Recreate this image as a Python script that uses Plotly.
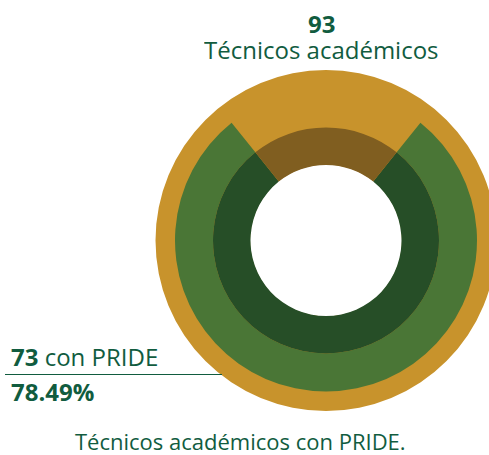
import plotly.graph_objects as go

# Data
total = 93
with_pride = 73
without_pride = total - with_pride
pct_label = "78.49%"
slice_labels = ["con PRIDE", "sin PRIDE"]
slice_values = [with_pride, without_pride]
title_label = "Técnicos académicos"
footer_label = "Técnicos académicos con PRIDE."

W, H = 489, 455
GOLD = "#C8932C"
GREEN = "#4A7636"
DKGREEN = "#264E27"
BROWN = "#805E20"
TXT = "#115C3F"
FONT = "Open Sans"

cx, cy = 326, 240.5  # pixel center (from top-left)


def dom(r):
    return dict(x=[(cx - r) / W, (cx + r) / W],
                y=[1 - (cy + r) / H, 1 - (cy - r) / H])


rot = 360 * without_pride / total / 2

fig = go.Figure()
fig.add_trace(go.Pie(
    labels=slice_labels, values=slice_values, sort=False, direction="clockwise",
    rotation=rot, hole=113 / 151, domain=dom(151),
    marker=dict(colors=[GREEN, "rgba(0,0,0,0)"], line=dict(width=0)),
    textinfo="none", hoverinfo="skip", showlegend=False))
fig.add_trace(go.Pie(
    labels=slice_labels, values=slice_values, sort=False, direction="clockwise",
    rotation=rot, hole=75.5 / 113, domain=dom(113),
    marker=dict(colors=[DKGREEN, BROWN], line=dict(width=0)),
    textinfo="none", hoverinfo="skip", showlegend=False))


def disc(r, color):
    fig.add_shape(type="circle", xref="paper", yref="paper", layer="below",
                  x0=(cx - r) / W, x1=(cx + r) / W,
                  y0=1 - (cy + r) / H, y1=1 - (cy - r) / H,
                  fillcolor=color, line=dict(width=0))


disc(170.5, GOLD)
disc(76, "white")
fig.add_shape(type="line", xref="paper", yref="paper", layer="below",
              x0=5 / W, x1=222 / W, y0=1 - 374.5 / H, y1=1 - 374.5 / H,
              line=dict(color=TXT, width=1.2))


def ann(text, xpx, ypx, size, xanchor="center", height=None):
    fig.add_annotation(text=text, x=xpx / W, y=1 - ypx / H, xref="paper", yref="paper",
                       xanchor=xanchor, yanchor="middle", showarrow=False, height=height,
                       font=dict(family=FONT, size=size, color=TXT))


ann(f"<b>{total}</b>", 321, 23, 24, height=24)
ann(title_label, 321, 49, 24, height=26)
ann(f"<b>{with_pride}</b> con PRIDE", 9, 356, 24, "left")
ann(f"<b>{pct_label}</b>", 9, 391.5, 24, "left")
ann(footer_label, 240.5, 440.5, 22)

fig.update_layout(width=W, height=H, margin=dict(l=0, r=0, t=0, b=0),
                  paper_bgcolor="white", plot_bgcolor="white", showlegend=False)
fig.write_html("out.html", config={"displayModeBar": False},
               post_script="document.body.style.margin='0';document.body.style.overflow='hidden';")
